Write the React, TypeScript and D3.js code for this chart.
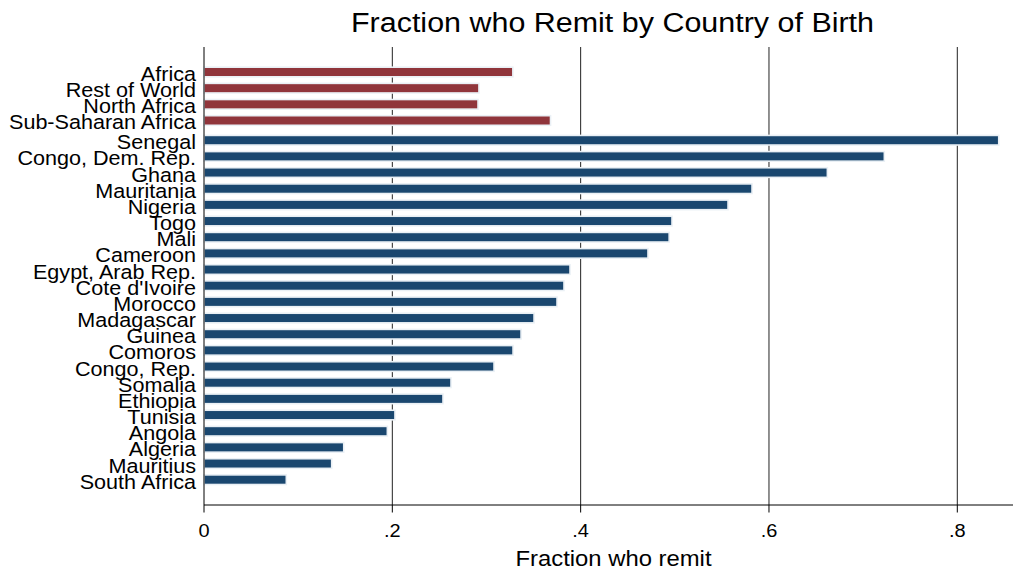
import React from "react";
import * as d3 from "d3";

const regions = ["Africa", "Rest of World", "North Africa", "Sub-Saharan Africa"];
const regionValues = [0.328, 0.292, 0.291, 0.368];
const countries = [
  "Senegal", "Congo, Dem. Rep.", "Ghana", "Mauritania", "Nigeria", "Togo", "Mali",
  "Cameroon", "Egypt, Arab Rep.", "Cote d'Ivoire", "Morocco", "Madagascar", "Guinea",
  "Comoros", "Congo, Rep.", "Somalia", "Ethiopia", "Tunisia", "Angola", "Algeria",
  "Mauritius", "South Africa",
];
const countryValues = [
  0.844, 0.7225, 0.662, 0.582, 0.5565, 0.497, 0.494, 0.4715, 0.3887, 0.3823, 0.3749,
  0.3505, 0.3367, 0.3282, 0.308, 0.2623, 0.2538, 0.2028, 0.1947, 0.1484, 0.1356, 0.0874,
];
const xTicks = [0, 0.2, 0.4, 0.6, 0.8];

const W = 1013;
const H = 576;
const FONT = "'Liberation Sans', Arial, sans-serif";

type Row = { name: string; value: number; group: number; pos: number };

function SText(props: { x: number; y: number; sx: number; size: number; anchor: string; children: React.ReactNode }) {
  return (
    <text
      transform={`translate(${props.x},${props.y}) scale(${props.sx},1)`}
      textAnchor={props.anchor}
      fontFamily={FONT}
      fontSize={props.size}
      fill="#000"
    >
      {props.children}
    </text>
  );
}

export default function App() {
  const rows: Row[] = [
    ...regions.map((name, i) => ({ name, value: regionValues[i], group: 0, pos: i })),
    ...countries.map((name, i) => ({ name, value: countryValues[i], group: 1, pos: regions.length + i + 0.22 })),
  ];
  const x = d3.scaleLinear().domain([0, 0.8]).range([204, 957.3]);
  const maxPos = d3.max(rows, (r) => r.pos) as number;
  const y = d3.scaleLinear().domain([0, maxPos]).range([72, 479.7]);
  const barH = 9.6;
  const colors = ["#90353b", "#1a476f"];
  const fmt = (v: number) => (v === 0 ? "0" : d3.format(".1f")(v).replace(/^0/, ""));

  return (
    <svg width={W} height={H} style={{ display: "block", position: "absolute", left: 0, top: 0 }}>
      <rect x={0} y={0} width={W} height={H} fill="#ffffff" />
      <SText x={612.5} y={32} sx={1.088} size={28} anchor="middle">
        Fraction who Remit by Country of Birth
      </SText>
      {xTicks.filter((t) => t > 0).map((t) => (
        <line key={"g" + t} x1={x(t)} x2={x(t)} y1={47} y2={505} stroke="#222" strokeWidth={1} />
      ))}
      {rows.map((r) => (
        <rect
          key={r.name}
          x={x(0)}
          y={y(r.pos) - barH / 2}
          width={x(r.value) - x(0)}
          height={barH}
          fill={colors[r.group]}
          stroke="#eaf0f5"
          strokeWidth={1.6}
        />
      ))}
      {rows.map((r) => (
        <SText key={"l" + r.name} x={196} y={y(r.pos) + 9} sx={1.107} size={19.5} anchor="end">
          {r.name}
        </SText>
      ))}
      <line x1={204} x2={204} y1={47} y2={505} stroke="#000" strokeWidth={1} />
      <line x1={204} x2={W} y1={505} y2={505} stroke="#000" strokeWidth={1} />
      {xTicks.map((t) => (
        <g key={"t" + t}>
          <line x1={x(t)} x2={x(t)} y1={505} y2={512.5} stroke="#000" strokeWidth={1} />
          <SText x={x(t)} y={537} sx={1.08} size={18.5} anchor="middle">
            {fmt(t)}
          </SText>
        </g>
      ))}
      <SText x={613.5} y={565.5} sx={1.06} size={22.5} anchor="middle">
        Fraction who remit
      </SText>
    </svg>
  );
}
